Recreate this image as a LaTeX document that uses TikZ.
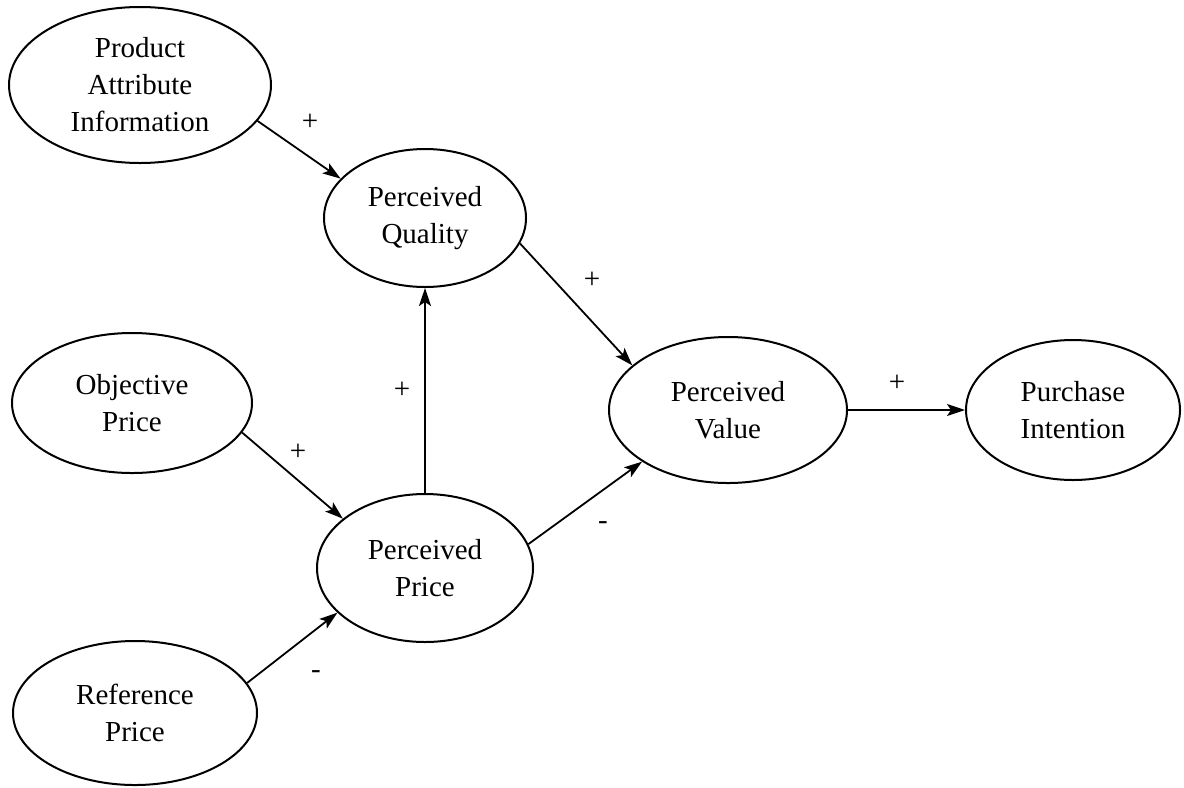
\documentclass[tikz,border=0pt]{standalone}
\usepackage{fontspec}
\setmainfont{Liberation Serif}
\usetikzlibrary{shapes.geometric,arrows.meta}
\begin{document}
\begin{tikzpicture}[x=0.5bp,y=-0.5bp,
  ell/.style={ellipse, draw, line width=1bp, inner sep=0pt, align=center,
    font=\fontsize{14.5bp}{18.5bp}\selectfont},
  conn/.style={-{Stealth[length=9bp,width=6bp,inset=2bp]}, line width=0.9bp},
  sign/.style={font=\fontsize{14.5bp}{18.5bp}\selectfont, inner sep=0pt}]
\useasboundingbox (0,0) rectangle (1184,787);
\node[ell, minimum width=131bp, minimum height=78bp] (pai) at (140,85) {Product\\Attribute\\Information};
\node[ell, minimum width=101bp, minimum height=69bp] (pq) at (425,218) {Perceived\\Quality};
\node[ell, minimum width=120bp, minimum height=70bp] (op) at (132,403) {Objective\\Price};
\node[ell, minimum width=119bp, minimum height=73bp] (pv) at (728,410) {Perceived\\Value};
\node[ell, minimum width=107bp, minimum height=70bp] (pi) at (1073,410) {Purchase\\Intention};
\node[ell, minimum width=108bp, minimum height=74bp] (pp) at (425,568) {Perceived\\Price};
\node[ell, minimum width=122bp, minimum height=72bp] (rp) at (135,713) {Reference\\Price};

\draw[conn] (pai.-17) -- (pq.155);
\draw[conn] (pq.-15) -- (pv.155);
\draw[conn] (op.-15) -- (pp.149);
\draw[conn] (rp.15) -- (pp.207);
\draw[conn] (pp.13) -- (pv.211);
\draw[conn] (pp.north) -- (pq.south);
\draw[conn] (pv.east) -- (pi.west);

\node[sign] (s1) at (310,122) {+};
\node[sign] (s2) at (592,280) {+};
\node[sign] (s3) at (402,390) {+};
\node[sign] (s4) at (298,452) {+};
\node[sign] (s5) at (897,383) {+};
\node[sign] (s6) at (603,526) {-};
\node[sign] (s7) at (316,675) {-};
\end{tikzpicture}
\end{document}
